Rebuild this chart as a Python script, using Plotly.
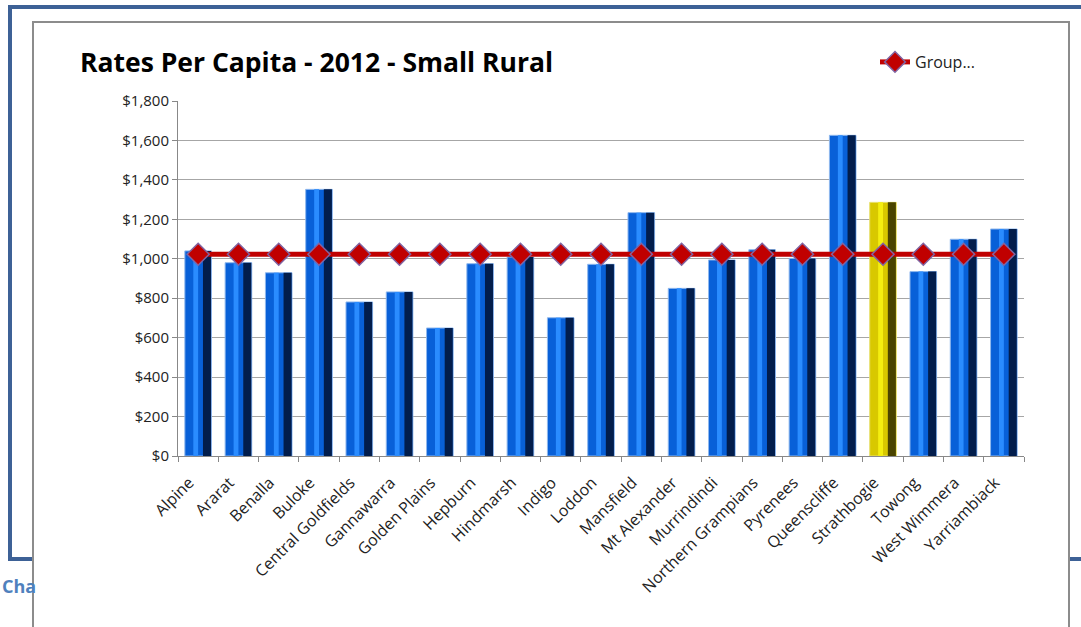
import plotly.graph_objects as go

W, H = 1081, 627

councils = ["Alpine", "Ararat", "Benalla", "Buloke", "Central Goldfields", "Gannawarra",
            "Golden Plains", "Hepburn", "Hindmarsh", "Indigo", "Loddon", "Mansfield",
            "Mt Alexander", "Murrindindi", "Northern Grampians", "Pyrenees", "Queenscliffe",
            "Strathbogie", "Towong", "West Wimmera", "Yarriambiack"]
rates = [1040, 980, 929, 1352, 781, 832, 649, 975, 1009, 701, 972, 1234,
         850, 994, 1046, 1002, 1626, 1286, 935, 1099, 1151]
group_avg = [1023] * len(councils)
highlight = "Strathbogie"


def px(x):
    return x / W


def py(y):
    return 1 - y / H


base_col = ["#d8c800" if c == highlight else "#0860d8" for c in councils]
dark_col = ["#4a4400" if c == highlight else "#021d4c" for c in councils]
light_col = ["#f4ee10" if c == highlight else "#2a8cff" for c in councils]
edge_col = ["#e8e070" if c == highlight else "#8fb8ee" for c in councils]

fig = go.Figure()

# cylinder look: base bar + dark right side + light centre strip
fig.add_trace(go.Bar(x=councils, y=rates, width=0.66, offset=-0.33,
                     marker=dict(color=base_col, line=dict(color=edge_col, width=1)),
                     showlegend=False, hoverinfo="x+y"))
fig.add_trace(go.Bar(x=councils, y=rates, width=0.2, offset=0.12,
                     marker=dict(color=dark_col, line=dict(width=0)),
                     showlegend=False, hoverinfo="skip"))
fig.add_trace(go.Bar(x=councils, y=rates, width=0.12, offset=-0.12,
                     marker=dict(color=light_col, line=dict(width=0)),
                     showlegend=False, hoverinfo="skip"))

fig.add_trace(go.Scatter(x=councils, y=group_avg, mode="lines+markers", name="Group...",
                         line=dict(color="#c00000", width=5),
                         marker=dict(symbol="diamond", size=17, color="#c00000",
                                     line=dict(color="#8064a2", width=1.5))))

shapes = [
    # outer blue frame
    dict(type="rect", xref="paper", yref="paper", x0=px(10), x1=px(1100), y0=py(559), y1=py(7),
         line=dict(color="#3d6196", width=4), fillcolor="rgba(0,0,0,0)", layer="below"),
    # white chart box
    dict(type="rect", xref="paper", yref="paper", x0=px(33), x1=px(1069), y0=py(650), y1=py(22),
         line=dict(color="#8c8c8c", width=2), fillcolor="white", layer="below"),
]

fig.update_layout(
    width=W, height=H,
    margin=dict(l=0, r=0, t=0, b=0, pad=0),
    paper_bgcolor="white", plot_bgcolor="rgba(0,0,0,0)",
    barmode="overlay",
    font=dict(family="Open Sans", size=15, color="#222"),
    shapes=shapes,
    xaxis=dict(domain=[px(178), px(1024)], range=[-0.5, len(councils) - 0.5],
               tickangle=-45, tickson="boundaries", ticklabelstandoff=10, ticklabelshift=-9,
               ticks="outside", ticklen=5, tickcolor="#888", showline=True, linecolor="#888",
               linewidth=1, tickfont=dict(size=16, color="#222"), automargin=False),
    yaxis=dict(domain=[py(456), py(101)], range=[0, 1800], dtick=200, tickformat="$,",
               showgrid=True, gridcolor="#a6a6a6", gridwidth=1, ticks="outside", ticklen=5,
               tickcolor="#888", showline=True, linecolor="#888", zeroline=False,
               tickfont=dict(size=15, color="#222"), automargin=False),
    legend=dict(x=px(875), y=py(62), xanchor="left", yanchor="middle",
                orientation="h", bgcolor="rgba(0,0,0,0)", font=dict(size=16, color="#222")),
    annotations=[
        dict(text="<b>Rates Per Capita - 2012 - Small Rural</b>", xref="paper", yref="paper",
             x=px(78), y=py(62), xanchor="left", yanchor="middle", showarrow=False,
             font=dict(size=26.5, color="black")),
        dict(text="<b>Cha</b>", xref="paper", yref="paper", x=0, y=py(586),
             xanchor="left", yanchor="middle", showarrow=False,
             font=dict(size=18, color="#4f81bd")),
    ],
)

fig.write_html("out.html", config={"displayModeBar": False},
               post_script="document.body.style.margin='0';")
